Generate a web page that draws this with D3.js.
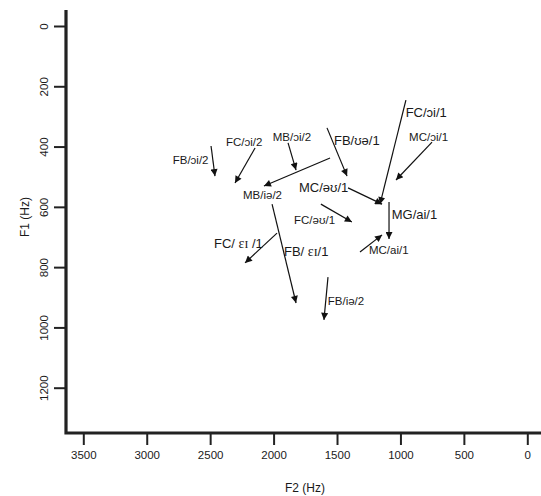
<!DOCTYPE html>
<html><head><meta charset="utf-8">
<script src="https://cdn.jsdelivr.net/npm/d3@7"></script>
<style>body{margin:0;background:#fff}svg{display:block}text{font-family:"Liberation Sans",Arial,sans-serif;fill:#1a1a1a}</style>
</head><body>
<svg id="c" width="541" height="496"></svg>
<script>
// Vowel trajectories: start (F2, F1) -> end (F2, F1), in Hz
const labels   = ["FB/ɔi/2","FC/ɔi/2","MB/ɔi/2","MB/iə/2","FB/ʊə/1","MC/əʊ/1","FC/əʊ/1","FC/ɔi/1","MC/ɔi/1","MG/ai/1","MC/ai/1","FB/ ɛɪ/1","FC/ ɛɪ /1","FB/iə/2"];
const startF2  = [2493, 2146, 1886, 1555, 1579, 1413, 1627,  957,  751, 1090, 1319, 2012, 1973, 1571];
const startF1  = [ 398,  405,  388,  438,  338,  537,  591,  246,  385,  584,  750,  591,  687,  833];
const endF2    = [2462, 2304, 1823, 2076, 1421, 1145, 1383, 1161, 1035, 1090, 1145, 1823, 2225, 1603];
const endF1    = [ 498,  521,  478,  531,  498,  591,  650,  591,  511,  707,  693,  919,  786,  975];
// label anchor (left, baseline) in data units
const labelF2  = [2795, 2375, 2007, 2241, 1524, 1800, 1839,  959,  932, 1069, 1248, 1918, 2470, 1573];
const labelF1  = [ 458,  397,  382,  574,  395,  551,  657,  301,  381,  640,  756,  763,  736,  926];
const labelBig = [false,false,false,false,true, true, false,true, false,true, false,true, true, false];
const xTicks = [3500, 3000, 2500, 2000, 1500, 1000, 500, 0];
const yTicks = [0, 200, 400, 600, 800, 1000, 1200];

const svg = d3.select("#c");
const x = d3.scaleLinear().domain([3500, 0]).range([83.3, 527.3]);
const y = d3.scaleLinear().domain([0, 1200]).range([26, 387.7]);
const axX = 66, axY = 433;

svg.append("defs").append("marker")
  .attr("id","ah").attr("markerUnits","userSpaceOnUse")
  .attr("viewBox","0 0 10 10").attr("refX",10).attr("refY",5)
  .attr("markerWidth",9).attr("markerHeight",7).attr("orient","auto")
  .append("path").attr("d","M0,0 L10,5 L0,10 Z").attr("fill","#111");

// axes
const gx = svg.append("g").attr("transform",`translate(0,${axY})`)
  .call(d3.axisBottom(x).tickValues(xTicks).tickSize(12).tickSizeOuter(0).tickPadding(6).tickFormat(d3.format("d")));
gx.select(".domain").remove();
gx.selectAll(".tick line").attr("stroke","#222").attr("stroke-width",2);
gx.selectAll(".tick text").attr("font-size",11.5).attr("fill","#222").attr("font-family","Liberation Sans, Arial, sans-serif");

const gy = svg.append("g").attr("transform",`translate(${axX},0)`)
  .call(d3.axisLeft(y).tickValues(yTicks).tickSize(12).tickSizeOuter(0).tickPadding(0).tickFormat(d3.format("d")));
gy.select(".domain").remove();
gy.selectAll(".tick line").attr("stroke","#222").attr("stroke-width",2);
gy.selectAll(".tick text").attr("font-size",11.5).attr("fill","#222").attr("font-family","Liberation Sans, Arial, sans-serif")
  .attr("x",0).attr("text-anchor","middle")
  .attr("transform","translate(-22,0) rotate(-90)").attr("dy","0.35em");

svg.append("path").attr("d",`M${axX},10 V${axY} H541`).attr("fill","none").attr("stroke","#222").attr("stroke-width",3.2);

svg.append("text").attr("x",305).attr("y",492).attr("text-anchor","middle").attr("font-size",12).text("F2 (Hz)");
svg.append("text").attr("transform","translate(29,217) rotate(-90)").attr("text-anchor","middle").attr("font-size",12).text("F1 (Hz)");

// arrows
const idx = d3.range(labels.length);
svg.append("g").selectAll("line").data(idx).join("line")
  .attr("x1",i=>x(startF2[i])).attr("y1",i=>y(startF1[i]))
  .attr("x2",i=>x(endF2[i])).attr("y2",i=>y(endF1[i]))
  .attr("stroke","#111").attr("stroke-width",1.2).attr("marker-end","url(#ah)");

const lt = svg.append("g").selectAll("text").data(idx).join("text")
  .attr("x",i=>x(labelF2[i])).attr("y",i=>y(labelF1[i]))
  .attr("font-size",i=>labelBig[i]?13:11.5);
lt.each(function(i){
  const parts = labels[i].split("ɛɪ");
  const t = d3.select(this);
  parts.forEach((p,k)=>{
    if(k>0) t.append("tspan").attr("font-family","Liberation Serif, serif").attr("font-size",14).text("ɛɪ");
    t.append("tspan").text(p);
  });
});
</script>
</body></html>
